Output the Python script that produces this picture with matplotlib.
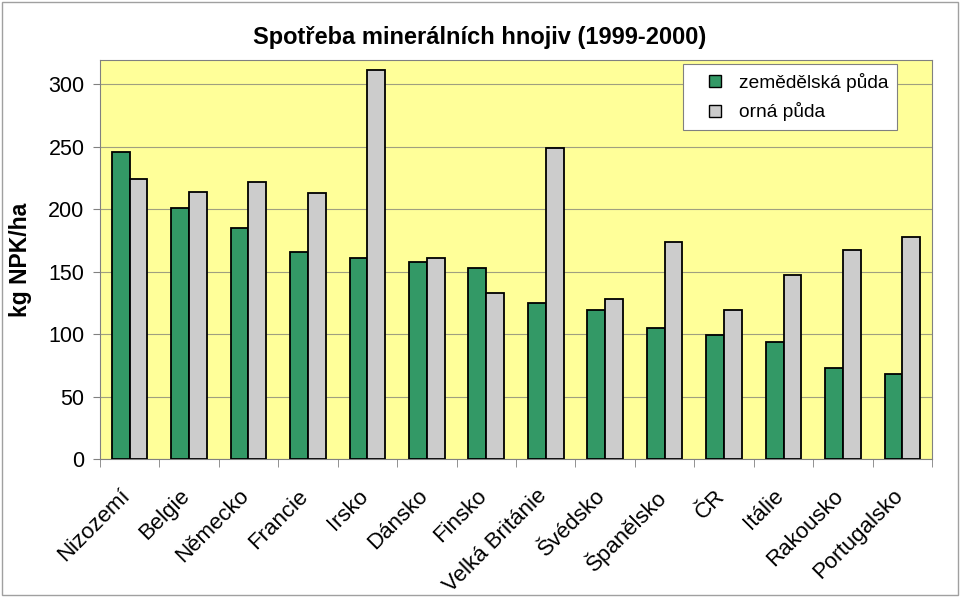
import numpy as np
import matplotlib.pyplot as plt
from matplotlib.patches import Rectangle
from matplotlib.lines import Line2D
from matplotlib.transforms import ScaledTranslation

plt.rcParams['font.family'] = ['Liberation Sans', 'DejaVu Sans']

countries = ['Nizozemí', 'Belgie', 'Německo', 'Francie', 'Irsko', 'Dánsko', 'Finsko',
             'Velká Británie', 'Švédsko', 'Španělsko', 'ČR', 'Itálie', 'Rakousko', 'Portugalsko']
zemedelska = [246, 201, 185, 166, 161, 158, 153, 125, 119, 105, 99, 94, 73, 68]
orna = [224, 214, 222, 213, 311, 161, 133, 249, 128, 174, 119, 147, 167, 178]

green = '#339966'
grey = '#CCCCCC'

fig = plt.figure(figsize=(9.6, 5.97), dpi=100)
ax = fig.add_axes([0.104, 0.231, 0.867, 0.668])
ax.set_facecolor('#FFFF99')

x = np.arange(len(countries))
w = 0.3
ax.bar(x - w/2, zemedelska, w, color=green, edgecolor='black', lw=1.3, zorder=3)
ax.bar(x + w/2, orna, w, color=grey, edgecolor='black', lw=1.3, zorder=3)

ax.set_xlim(-0.5, len(countries) - 0.5)
ax.set_ylim(0, 319)
ax.set_yticks(range(0, 301, 50))
ax.yaxis.grid(True, color='#A0A080', lw=0.8, zorder=0)
ax.tick_params(axis='y', labelsize=15.5, length=5, color='#808080', pad=6)
ax.set_xticks(x)
ax.set_xticklabels(countries, rotation=45, ha='right', rotation_mode='anchor', fontsize=16)
ax.tick_params(axis='x', length=0, pad=14)
ax.set_xticks(np.arange(-0.5, len(countries)), minor=True)
ax.tick_params(axis='x', which='minor', length=6, color='#808080')
shift = ScaledTranslation(-0.1, -0.07, fig.dpi_scale_trans)
for lbl in ax.get_xticklabels():
    lbl.set_transform(lbl.get_transform() + shift)
for s in ax.spines.values():
    s.set_color('#808080')

fig.text(0.021, 0.565, 'kg NPK/ha', rotation=90, fontsize=16.5, fontweight='bold',
         ha='center', va='center')
fig.text(0.5, 0.938, 'Spotřeba minerálních hnojiv (1999-2000)', fontsize=17,
         fontweight='bold', ha='center', va='center')

handles = [Line2D([], [], marker='s', ls='none', markersize=8, markerfacecolor=c,
                  markeredgecolor='black', markeredgewidth=1) for c in (green, grey)]
leg = ax.legend(handles, ['zemědělská půda', 'orná půda'], loc='upper right',
                bbox_to_anchor=(0.958, 0.99), fontsize=13.8,
                fancybox=False, framealpha=1, edgecolor='#808080',
                handlelength=2.4, handletextpad=0.05,
                borderpad=0.45, labelspacing=0.55, borderaxespad=0)
leg.get_frame().set_linewidth(0.8)

fig.patches.append(Rectangle((0.002, 0.003), 0.996, 0.994, transform=fig.transFigure,
                             fill=False, edgecolor='#A0A0A0', lw=1))

fig.savefig('out.png', dpi=100)
